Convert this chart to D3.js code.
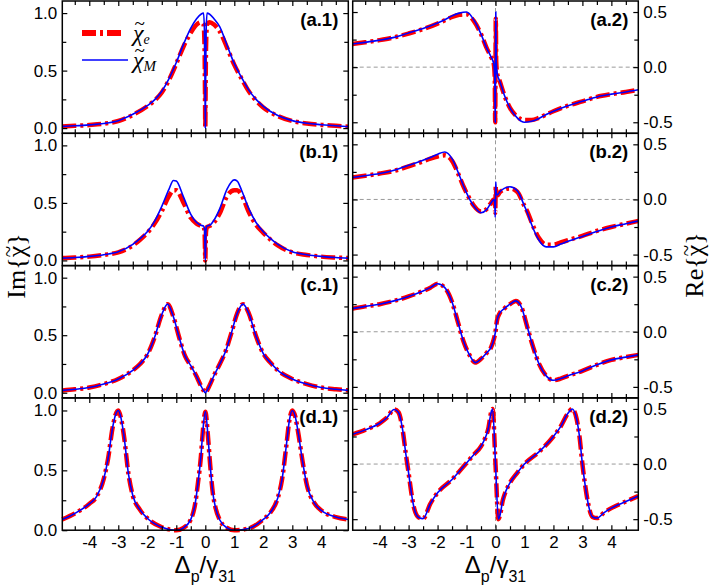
<!DOCTYPE html>
<html>
<head>
<meta charset="utf-8">
<script src="https://cdn.jsdelivr.net/npm/d3@7"></script>
<style>
  body { margin: 0; background: #fff; }
  svg { display: block; }
</style>
</head>
<body>
<div id="chart"></div>
<script>
// ---- data (x in units of gamma31) ----
// row a
const xa = [-4.93, -4.5, -4, -3.5, -3, -2.5, -2, -1.75, -1.5, -1.25, -1, -0.75, -0.5, -0.3, -0.15, -0.06, -0.025, -0.01,
  0, 0.01, 0.025, 0.06, 0.15, 0.3, 0.5, 0.75, 1, 1.25, 1.5, 1.75, 2, 2.5, 3, 3.5, 4, 4.5, 4.93];
const imA_M = [0.015, 0.02, 0.028, 0.04, 0.065, 0.12, 0.195, 0.245, 0.32, 0.43, 0.57, 0.73, 0.87, 0.95, 0.99, 1.0, 0.8, 0.35,
  0.0, 0.35, 0.8, 1.0, 0.99, 0.95, 0.88, 0.72, 0.56, 0.44, 0.33, 0.25, 0.19, 0.11, 0.065, 0.042, 0.03, 0.02, 0.013];
const imA_e = [0.015, 0.02, 0.027, 0.038, 0.062, 0.115, 0.19, 0.24, 0.31, 0.42, 0.56, 0.71, 0.83, 0.9, 0.92, 0.9, 0.7, 0.3,
  0.0, 0.3, 0.7, 0.9, 0.92, 0.9, 0.84, 0.7, 0.55, 0.43, 0.32, 0.24, 0.18, 0.105, 0.062, 0.04, 0.028, 0.02, 0.013];
const reA_M = [0.21, 0.225, 0.245, 0.27, 0.31, 0.35, 0.40, 0.43, 0.465, 0.49, 0.50, 0.43, 0.30, 0.17, 0.09, 0.03, -0.1, -0.5,
  0.0, 0.5, 0.05, -0.06, -0.13, -0.25, -0.37, -0.46, -0.50, -0.49, -0.465, -0.43, -0.40, -0.35, -0.31, -0.27, -0.245, -0.225, -0.205];
const reA_e = [0.21, 0.225, 0.245, 0.27, 0.305, 0.345, 0.395, 0.425, 0.455, 0.475, 0.48, 0.42, 0.30, 0.17, 0.09, 0.03, -0.1, -0.5,
  0.0, 0.44, 0.05, -0.06, -0.13, -0.25, -0.37, -0.45, -0.48, -0.48, -0.46, -0.43, -0.40, -0.35, -0.31, -0.27, -0.245, -0.225, -0.205];

// row b
const xb = [-4.93, -4.5, -4, -3.5, -3, -2.5, -2.25, -2, -1.75, -1.5, -1.25, -1.1, -1, -0.75, -0.5, -0.3, -0.15, -0.06, -0.025, -0.01,
  0, 0.01, 0.025, 0.06, 0.15, 0.3, 0.5, 0.75, 1, 1.1, 1.25, 1.5, 1.75, 2, 2.25, 2.5, 3, 3.5, 4, 4.5, 4.93];
const imB_M = [0.02, 0.025, 0.035, 0.05, 0.075, 0.14, 0.19, 0.25, 0.34, 0.47, 0.62, 0.695, 0.69, 0.55, 0.40, 0.33, 0.305, 0.30, 0.27, 0.12,
  0.0, 0.12, 0.27, 0.30, 0.305, 0.35, 0.45, 0.62, 0.70, 0.69, 0.61, 0.45, 0.33, 0.25, 0.19, 0.14, 0.075, 0.05, 0.035, 0.025, 0.02];
const imB_e = [0.02, 0.025, 0.033, 0.048, 0.07, 0.13, 0.18, 0.24, 0.32, 0.43, 0.56, 0.61, 0.61, 0.50, 0.37, 0.32, 0.30, 0.29, 0.25, 0.1,
  0.0, 0.1, 0.25, 0.29, 0.30, 0.33, 0.41, 0.56, 0.61, 0.61, 0.57, 0.42, 0.31, 0.24, 0.18, 0.13, 0.07, 0.048, 0.033, 0.025, 0.02];
const reB_M = [0.20, 0.215, 0.235, 0.265, 0.31, 0.355, 0.38, 0.41, 0.43, 0.37, 0.22, 0.12, 0.06, -0.06, -0.12, -0.09, -0.03, 0.0, -0.03, -0.16,
  0.0, 0.16, 0.06, 0.04, 0.07, 0.10, 0.115, 0.08, -0.06, -0.12, -0.23, -0.37, -0.43, -0.43, -0.405, -0.38, -0.335, -0.29, -0.25, -0.22, -0.195];
const reB_e = [0.20, 0.215, 0.235, 0.26, 0.30, 0.345, 0.37, 0.39, 0.40, 0.35, 0.21, 0.115, 0.06, -0.055, -0.11, -0.085, -0.03, 0.0, -0.03, -0.12,
  0.0, 0.12, 0.05, 0.035, 0.065, 0.09, 0.10, 0.07, -0.06, -0.11, -0.21, -0.35, -0.41, -0.41, -0.39, -0.37, -0.33, -0.285, -0.25, -0.22, -0.195];

// row c (both curves coincide)
const xc = [-4.93, -4.5, -4, -3.5, -3, -2.5, -2.25, -2, -1.75, -1.5, -1.3, -1.1, -0.9, -0.7, -0.5, -0.3, -0.15, -0.05,
  0, 0.05, 0.15, 0.3, 0.5, 0.7, 0.9, 1.1, 1.3, 1.5, 1.75, 2, 2.25, 2.5, 3, 3.5, 4, 4.5, 4.93];
const imC = [0.02, 0.03, 0.045, 0.075, 0.12, 0.195, 0.25, 0.33, 0.48, 0.68, 0.77, 0.66, 0.48, 0.32, 0.235, 0.14, 0.06, 0.015,
  0.0, 0.015, 0.065, 0.15, 0.25, 0.36, 0.52, 0.69, 0.77, 0.69, 0.49, 0.34, 0.26, 0.195, 0.12, 0.075, 0.045, 0.03, 0.02];
const reC = [0.21, 0.23, 0.25, 0.28, 0.32, 0.37, 0.40, 0.435, 0.40, 0.27, 0.09, -0.09, -0.21, -0.28, -0.245, -0.19, -0.14, -0.06,
  0.0, 0.1, 0.17, 0.21, 0.25, 0.28, 0.22, 0.04, -0.14, -0.29, -0.40, -0.44, -0.425, -0.40, -0.355, -0.30, -0.255, -0.23, -0.21];

// row d (both curves coincide)
const xd = [-4.93, -4.5, -4, -3.75, -3.5, -3.35, -3.2, -3.1, -3, -2.9, -2.8, -2.65, -2.5, -2.25, -2, -1.5, -1, -0.75, -0.5, -0.35, -0.25, -0.15, -0.1,
  0, 0.1, 0.15, 0.25, 0.35, 0.5, 0.75, 1, 1.5, 2, 2.25, 2.5, 2.65, 2.8, 2.9, 3, 3.1, 3.2, 3.35, 3.5, 3.75, 4, 4.5, 4.93];
const imD = [0.09, 0.14, 0.22, 0.28, 0.43, 0.6, 0.85, 0.96, 1.0, 0.93, 0.78, 0.47, 0.29, 0.17, 0.10, 0.025, 0.0, 0.02, 0.09, 0.22, 0.40, 0.62, 0.78,
  0.99, 0.76, 0.6, 0.33, 0.19, 0.085, 0.02, 0.0, 0.015, 0.09, 0.15, 0.27, 0.43, 0.72, 0.92, 1.0, 0.95, 0.82, 0.58, 0.38, 0.23, 0.165, 0.11, 0.09];
const reD = [0.27, 0.31, 0.37, 0.42, 0.495, 0.47, 0.3, 0.1, -0.08, -0.27, -0.41, -0.485, -0.495, -0.36, -0.26, -0.14, 0.01, 0.085, 0.16, 0.24, 0.32, 0.47, 0.5,
  0.0, -0.5, -0.47, -0.33, -0.25, -0.17, -0.08, 0.0, 0.11, 0.25, 0.34, 0.46, 0.5, 0.41, 0.25, 0.0, -0.2, -0.36, -0.48, -0.49, -0.44, -0.4, -0.34, -0.29];

const tags = ["(a.1)", "(a.2)", "(b.1)", "(b.2)", "(c.1)", "(c.2)", "(d.1)", "(d.2)"];
const xMajor = [-4, -3, -2, -1, 0, 1, 2, 3, 4];
const xMinor = [-4.5, -3.5, -2.5, -1.5, -0.5, 0.5, 1.5, 2.5, 3.5, 4.5];
const imMajor = [0, 0.5, 1], imMinor = [0.25, 0.75];
const reMajor = [-0.5, 0, 0.5], reMinor = [-0.25, 0.25];

// ---- layout ----
const W = 709, H = 588;
const colRange = [[62.3, 348.3], [352.7, 638.3]];
const rowTop = 1, rowH = 132.3;
const sans = "'Liberation Sans', Arial, Helvetica, sans-serif";
const serif = "'Liberation Serif', 'Times New Roman', Times, serif";

const svg = d3.select("#chart").append("svg")
  .attr("width", W)
  .attr("height", H)
  .style("font-family", sans);

const panels = [
  {row: 0, col: 0, xs: xa, e: imA_e, M: imA_M},
  {row: 0, col: 1, xs: xa, e: reA_e, M: reA_M},
  {row: 1, col: 0, xs: xb, e: imB_e, M: imB_M},
  {row: 1, col: 1, xs: xb, e: reB_e, M: reB_M},
  {row: 2, col: 0, xs: xc, e: imC, M: imC},
  {row: 2, col: 1, xs: xc, e: reC, M: reC},
  {row: 3, col: 0, xs: xd, e: imD, M: imD},
  {row: 3, col: 1, xs: xd, e: reD, M: reD}
];

function addAxis(g, axis, transform) {
  const a = g.append("g")
    .attr("transform", transform)
    .call(axis)
    .attr("font-size", 17)
    .attr("font-family", sans);
  a.select(".domain").remove();
  a.selectAll(".tick line").attr("stroke", "#000").attr("stroke-width", 1.2);
  a.selectAll(".tick text").attr("fill", "#000");
  return a;
}

panels.forEach((p, i) => {
  const [x0, x1] = colRange[p.col];
  const y0 = rowTop + p.row * rowH, y1 = y0 + rowH;
  const isIm = p.col === 0;

  const x = d3.scaleLinear().domain([-4.93, 4.93]).range([x0, x1]);
  const yDomain = isIm ? (p.row === 3 ? [0, 1.105] : [-0.045, 1.105]) : [-0.6, 0.6];
  const y = d3.scaleLinear().domain(yDomain).range([y1, y0]);

  const g = svg.append("g");

  // guide lines in the Re panels
  if (!isIm) {
    g.append("line")
      .attr("x1", x0).attr("x2", x1)
      .attr("y1", y(0)).attr("y2", y(0))
      .attr("stroke", "#9a9a9a").attr("stroke-width", 1).attr("stroke-dasharray", "4,3");
    g.append("line")
      .attr("x1", x(0)).attr("x2", x(0))
      .attr("y1", y0).attr("y2", y1)
      .attr("stroke", "#9a9a9a").attr("stroke-width", 1).attr("stroke-dasharray", "4,3");
  }

  const line = d3.line()
    .x(d => x(d[0]))
    .y(d => y(d[1]))
    .curve(d3.curveMonotoneX);

  g.append("path")
    .datum(d3.zip(p.xs, p.e))
    .attr("d", line)
    .attr("fill", "none")
    .attr("stroke", "#ff0000")
    .attr("stroke-width", 4.5)
    .attr("stroke-dasharray", "14,4,3,4");

  g.append("path")
    .datum(d3.zip(p.xs, p.M))
    .attr("d", line)
    .attr("fill", "none")
    .attr("stroke", "#0000ff")
    .attr("stroke-width", 1.6);

  // ticks on all four sides, pointing inward
  const xFmt = p.row === 3 ? (d => String(d)) : (() => "");
  addAxis(g, d3.axisBottom(x).tickValues(xMajor).tickSizeInner(-5).tickSizeOuter(0).tickPadding(6).tickFormat(xFmt),
    `translate(0,${y1})`);
  addAxis(g, d3.axisBottom(x).tickValues(xMinor).tickSizeInner(-4).tickSizeOuter(0).tickFormat(() => ""),
    `translate(0,${y1})`);
  addAxis(g, d3.axisTop(x).tickValues(xMajor).tickSizeInner(-5).tickSizeOuter(0).tickFormat(() => ""),
    `translate(0,${y0})`);
  addAxis(g, d3.axisTop(x).tickValues(xMinor).tickSizeInner(-4).tickSizeOuter(0).tickFormat(() => ""),
    `translate(0,${y0})`);

  const yMajor = isIm ? imMajor : reMajor;
  const yMinor = isIm ? imMinor : reMinor;
  const yFmt = d => d.toFixed(1);
  addAxis(g, d3.axisLeft(y).tickValues(yMajor).tickSizeInner(-5).tickSizeOuter(0).tickPadding(5)
    .tickFormat(isIm ? yFmt : () => ""), `translate(${x0},0)`);
  addAxis(g, d3.axisLeft(y).tickValues(yMinor).tickSizeInner(-4).tickSizeOuter(0).tickFormat(() => ""),
    `translate(${x0},0)`);
  addAxis(g, d3.axisRight(y).tickValues(yMajor).tickSizeInner(-5).tickSizeOuter(0).tickPadding(5)
    .tickFormat(isIm ? () => "" : yFmt), `translate(${x1},0)`);
  addAxis(g, d3.axisRight(y).tickValues(yMinor).tickSizeInner(-4).tickSizeOuter(0).tickFormat(() => ""),
    `translate(${x1},0)`);

  // frame
  g.append("rect")
    .attr("x", x0).attr("y", y0)
    .attr("width", x1 - x0).attr("height", y1 - y0)
    .attr("fill", "none")
    .attr("stroke", "#000")
    .attr("stroke-width", 1.5);

  // panel tag
  g.append("text")
    .attr("x", x1 - 10)
    .attr("y", y0 + 25)
    .attr("text-anchor", "end")
    .attr("font-size", 18.5)
    .attr("font-weight", "bold")
    .text(tags[i]);
});

// put a tilde over one character of a text node
function addTilde(g, node, idx, fs, shift, lift) {
  const a = node.getStartPositionOfChar(idx);
  const b = node.getEndPositionOfChar(idx);
  g.append("text")
    .attr("x", (a.x + b.x) / 2 + (shift || 0))
    .attr("y", a.y - fs * lift)
    .attr("text-anchor", "middle")
    .attr("font-family", serif)
    .attr("font-size", fs * 0.8)
    .text("~");
}

// legend in (a.1)
const leg = svg.append("g");
leg.append("line")
  .attr("x1", 82).attr("x2", 125).attr("y1", 33).attr("y2", 33)
  .attr("stroke", "#ff0000").attr("stroke-width", 6).attr("stroke-dasharray", "14,4,3,4");
leg.append("line")
  .attr("x1", 82).attr("x2", 128).attr("y1", 60).attr("y2", 60)
  .attr("stroke", "#0000ff").attr("stroke-width", 1.6);

[["e", 41, 14], ["M", 68, 15]].forEach(([sub, yb, sfs]) => {
  const t = leg.append("text").attr("x", 133).attr("y", yb)
    .attr("font-family", serif).attr("font-style", "italic").attr("font-size", 24);
  t.append("tspan").text("\u03C7");
  t.append("tspan").attr("font-size", sfs).attr("dy", 3).text(sub);
  addTilde(leg, t.node(), 0, 24, 1.5, 0.45);
});

// axis titles
[["Im", 25, 266], ["Re", 703, 265]].forEach(([name, tx, ty]) => {
  const g = svg.append("g").attr("transform", `translate(${tx},${ty}) rotate(-90)`);
  const t = g.append("text")
    .attr("x", 0).attr("y", 0)
    .attr("text-anchor", "middle")
    .attr("font-family", serif)
    .attr("font-size", 26)
    .text(name + "{\u03C7}");
  addTilde(g, t.node(), name.length + 1, 26, 0, 0.4);
});

colRange.forEach(([x0, x1]) => {
  const t = svg.append("text")
    .attr("x", (x0 + x1) / 2)
    .attr("y", 573)
    .attr("text-anchor", "middle")
    .attr("font-size", 24);
  t.append("tspan").text("\u0394");
  t.append("tspan").attr("font-size", 16).attr("dy", 9).text("p");
  t.append("tspan").attr("dy", -9).text("/\u03B3");
  t.append("tspan").attr("font-size", 16).attr("dy", 9).text("31");
});
</script>
</body>
</html>
